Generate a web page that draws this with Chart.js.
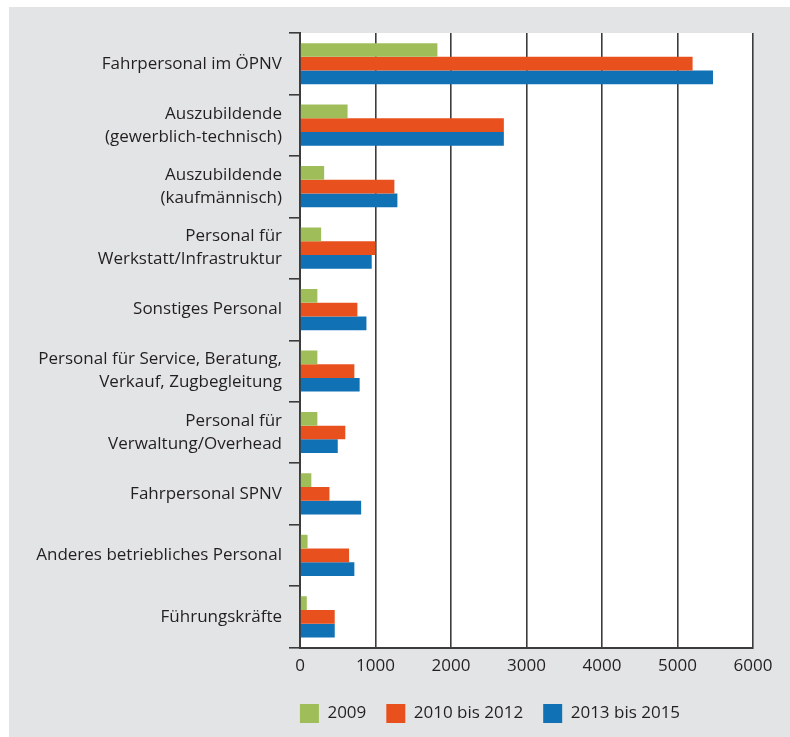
<!DOCTYPE html>
<html>
<head>
<meta charset="utf-8">
<script src="https://cdn.jsdelivr.net/npm/chart.js@4/dist/chart.umd.min.js"></script>
<style>
  html, body { margin: 0; padding: 0; background: #ffffff; }
  #wrap { width: 790px; height: 737px; }
</style>
</head>
<body>
<div id="wrap"><canvas id="c" width="790" height="737"></canvas></div>
<script>
// Staff groups (multi-line labels as arrays)
const categories = [
  'Fahrpersonal im ÖPNV',
  ['Auszubildende', '(gewerblich-technisch)'],
  ['Auszubildende', '(kaufmännisch)'],
  ['Personal für', 'Werkstatt/Infrastruktur'],
  'Sonstiges Personal',
  ['Personal für Service, Beratung,', 'Verkauf, Zugbegleitung'],
  ['Personal für', 'Verwaltung/Overhead'],
  'Fahrpersonal SPNV',
  'Anderes betriebliches Personal',
  'Führungskräfte'
];
const seriesNames = ['2009', '2010 bis 2012', '2013 bis 2015'];
const values2009 = [1820, 630, 320, 280, 230, 230, 230, 150, 100, 90];
const values2010to2012 = [5200, 2700, 1250, 1000, 760, 720, 600, 390, 650, 460];
const values2013to2015 = [5470, 2700, 1290, 950, 880, 790, 500, 810, 720, 460];
const xTicks = [0, 1000, 2000, 3000, 4000, 5000, 6000];

const GREEN = '#9fbe5a', RED = '#e8501e', BLUE = '#1071b5';
const PANEL = '#e3e4e6', INK = '#231f20', RULE = '#3c3c3c';
const FONT = { family: '"Open Sans", sans-serif', size: 17 };

const PLOT_LEFT = 300;
const LEGEND_LEFT = 227;

// Grey panel behind everything, white plotting field; legend row centred under the labels+plot block
const backdrop = {
  id: 'backdrop',
  beforeDraw(chart) {
    const { ctx, chartArea: a } = chart;
    ctx.save();
    ctx.fillStyle = '#ffffff';
    ctx.fillRect(0, 0, chart.width, chart.height);
    ctx.fillStyle = PANEL;
    ctx.fillRect(9, 7, chart.width - 9, chart.height - 7);
    ctx.fillStyle = '#ffffff';
    ctx.fillRect(a.left, a.top, a.right - a.left, a.bottom - a.top);
    ctx.restore();
    if (chart.legend) {
      chart.legend.left = LEGEND_LEFT;
      chart.legend.right = a.right;
    }
  }
};

new Chart(document.getElementById('c'), {
  type: 'bar',
  data: {
    labels: categories,
    datasets: [
      { label: seriesNames[0], data: values2009, backgroundColor: GREEN },
      { label: seriesNames[1], data: values2010to2012, backgroundColor: RED },
      { label: seriesNames[2], data: values2013to2015, backgroundColor: BLUE }
    ]
  },
  options: {
    indexAxis: 'y',
    responsive: false,
    animation: false,
    devicePixelRatio: 1,
    layout: { padding: { left: 0, right: 37, top: 33, bottom: 4 } },
    datasets: { bar: { categoryPercentage: 0.67, barPercentage: 1.0, borderWidth: 0 } },
    plugins: {
      tooltip: { enabled: false },
      legend: {
        position: 'bottom',
        labels: {
          boxWidth: 19, boxHeight: 19, padding: 20,
          color: INK, font: FONT
        }
      }
    },
    scales: {
      x: {
        min: 0, max: 6000,
        afterBuildTicks(scale) { scale.ticks = xTicks.map(v => ({ value: v })); },
        ticks: { color: INK, font: FONT, padding: 8, maxRotation: 0, callback: v => String(v) },
        grid: { color: RULE, lineWidth: 1.6, drawTicks: false },
        border: { display: true, color: RULE, width: 2 }
      },
      y: {
        afterFit(scale) { scale.width = PLOT_LEFT; },
        ticks: { color: INK, font: { ...FONT, lineHeight: 1.35 }, padding: 7, autoSkip: false },
        grid: { offset: true, drawOnChartArea: false, color: RULE, lineWidth: 1.6, tickLength: 11 },
        border: { display: true, color: RULE, width: 2 }
      }
    }
  },
  plugins: [backdrop]
});
</script>
</body>
</html>
